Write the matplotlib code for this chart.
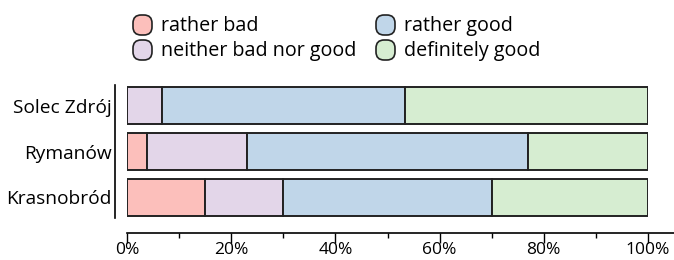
import matplotlib
matplotlib.use("Agg")
import matplotlib.pyplot as plt
from matplotlib.patches import FancyBboxPatch
from matplotlib.ticker import MultipleLocator, PercentFormatter

plt.rcParams["font.family"] = ["Open Sans", "DejaVu Sans"]

places = ["Solec Zdrój", "Rymanów", "Krasnobród"]
categories = ["rather bad", "neither bad nor good", "rather good", "definitely good"]
# shares in percent, one list per category, ordered like `places`
rather_bad = [0.0, 3.8, 15.0]
neither = [6.7, 19.3, 15.0]
rather_good = [46.6, 53.8, 40.0]
definitely_good = [46.7, 23.1, 30.0]
colors = ["#fcbfbb", "#e3d6e9", "#c0d6e9", "#d6edd1"]

fig = plt.figure(figsize=(6.74, 2.6), dpi=100)
ax = fig.add_axes([127 / 674, 1 - 218 / 260, (648 - 127) / 674, (218 - 85) / 260])

ypos = list(range(len(places)))[::-1]
left = [0.0] * len(places)
for vals, col, name in zip([rather_bad, neither, rather_good, definitely_good], colors, categories):
    ax.barh(ypos, vals, left=left, height=0.8, color=col, edgecolor="#222222",
            linewidth=1.4, label=name)
    left = [l + v for l, v in zip(left, vals)]

for s in ["top", "right"]:
    ax.spines[s].set_visible(False)
ax.spines["left"].set_position(("outward", 9))
ax.spines["bottom"].set_position(("outward", 11))
ax.spines["bottom"].set_bounds(0, 105)
ax.spines["left"].set_linewidth(1.2)
ax.spines["bottom"].set_linewidth(1.2)

ax.set_xlim(0, 100)
ax.set_ylim(-0.45, 2.45)
ax.set_yticks(ypos)
ax.set_yticklabels(places)
ax.tick_params(axis="y", length=0, pad=2, labelsize=13.8)

ax.xaxis.set_major_locator(MultipleLocator(20))
ax.xaxis.set_minor_locator(MultipleLocator(10))
ax.xaxis.set_major_formatter(PercentFormatter(decimals=0))
ax.tick_params(axis="x", which="major", length=7, width=1, labelsize=12.5, pad=-1)
ax.tick_params(axis="x", which="minor", length=3.5, width=1)

# legend drawn by hand: rounded swatches in two columns
legend_items = [(133, 25, 0), (133, 50, 1), (376, 25, 2), (376, 50, 3)]
for x0, yc, i in legend_items:
    box = FancyBboxPatch((x0 / 674, 1 - (yc + 10) / 260), 19 / 674, 20 / 260,
                         boxstyle="round,pad=0,rounding_size=0.012",
                         transform=fig.transFigure, facecolor=colors[i],
                         edgecolor="#222222", linewidth=1.2, mutation_aspect=674 / 260)
    fig.patches.append(box)
    fig.text((x0 + 28) / 674, 1 - (yc + 1) / 260, categories[i], fontsize=14.2,
             va="center", ha="left")

fig.savefig("out.png", dpi=100)
